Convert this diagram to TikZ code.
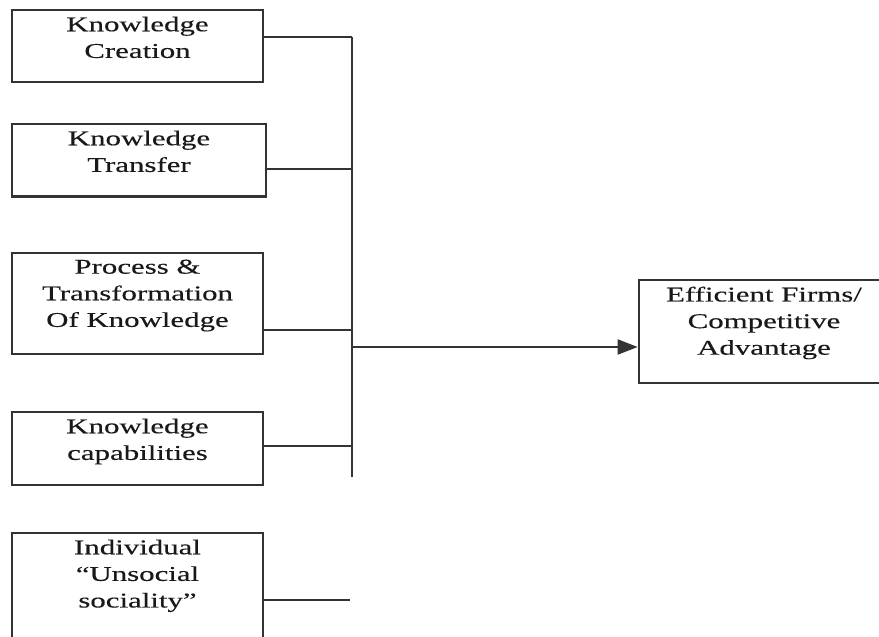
\documentclass[tikz,border=0pt]{standalone}
\usepackage{fontspec}
\setmainfont[FakeStretch=1.47, FakeBold=0.35]{Liberation Serif}
\usetikzlibrary{arrows.meta,positioning}
\definecolor{ink}{HTML}{333333}

\begin{document}
\begin{tikzpicture}[
      x=0.5pt, y=-0.5pt,
      font=\fontsize{10.5}{13.3}\selectfont,
      box/.style={draw=ink, line width=1.3pt, inner sep=0pt, minimum width=125.5pt, minimum height=36pt},
      lbl/.style={align=center, inner sep=0pt, text=black!90},
      link/.style={draw=ink, line width=0.9pt},
      arrow/.style={link, -{Triangle[length=10pt, width=7.5pt]}},
      node distance=3.8pt
    ]
      \useasboundingbox (0,0) rectangle (879,637);
      \clip (0,0) rectangle (879,637);

      \node[box] (create) at (137.5,46) {};
      \node[box, minimum width=127pt, minimum height=36.25pt] (transfer) at (139,160.25) {};
      \node[box, minimum height=50.5pt] (process) at (137.5,303.5) {};
      \node[box, minimum height=36.5pt] (capab) at (137.5,448.5) {};
      \node[box, minimum height=63.5pt] (social) at (137.5,596.5) {};
      \node[box, minimum width=125pt, minimum height=51.5pt] (firms) at (764,331.5) {};

      \node[lbl, below=of create.north] (create-t) {Knowledge\\Creation};
      \node[lbl, below=of transfer.north] (transfer-t) {Knowledge\\Transfer};
      \node[lbl, below=of process.north] (process-t) {Process \&\\Transformation\\Of Knowledge};
      \node[lbl, below=of capab.north] (capab-t) {Knowledge\\capabilities};
      \node[lbl, below=of social.north] (social-t) {Individual\\``Unsocial\\sociality''};
      \node[lbl, below=of firms.north] (firms-t) {Efficient Firms/\\Competitive\\Advantage};

      \coordinate (j1) at (352,37);
      \coordinate (j2) at (352,169);
      \coordinate (j3) at (352,330);
      \coordinate (hub) at (352,347);
      \coordinate (j4) at (352,446);
      \coordinate (busend) at (352,477);
      \coordinate (stub) at (350,600);

      \draw[link] (j1) -- (busend);
      \draw[link] (create.east |- j1) -- (j1);
      \draw[link] (transfer.east |- j2) -- (j2);
      \draw[link] (process.east |- j3) -- (j3);
      \draw[link] (capab.east |- j4) -- (j4);
      \draw[link] (social.east |- stub) -- (stub);
      \draw[arrow] (hub) -- (firms.west |- hub);
    \end{tikzpicture}
\end{document}
